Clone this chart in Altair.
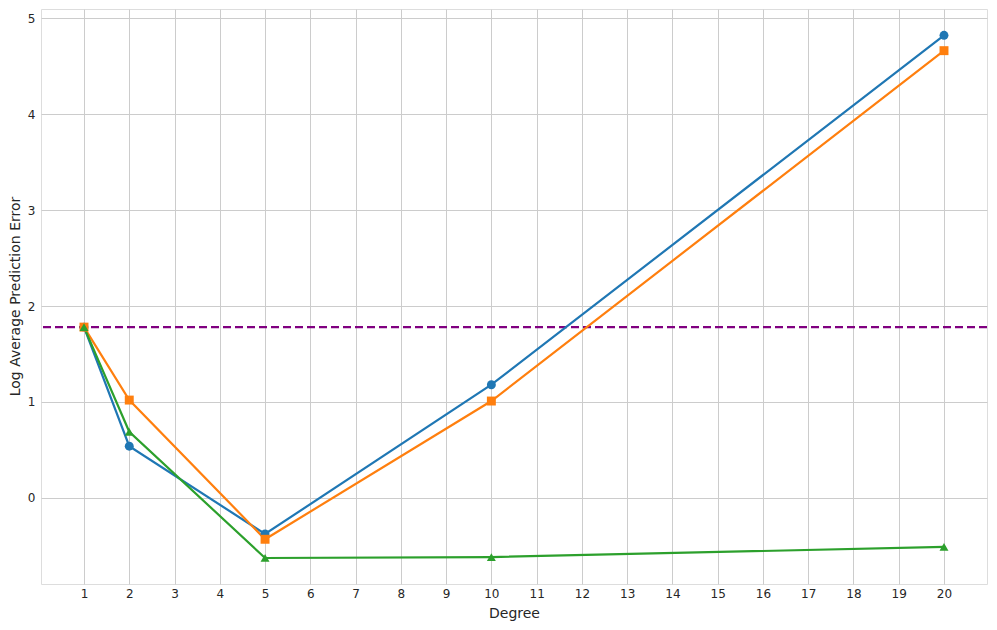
import altair as alt
import pandas as pd

degrees = [1, 2, 5, 10, 20]
series_a = [1.78, 0.54, -0.375, 1.18, 4.82]
series_b = [1.78, 1.02, -0.43, 1.01, 4.66]
series_c = [1.78, 0.69, -0.625, -0.615, -0.51]
baseline = 1.78
series_names = ["A", "B", "C"]
colors = ["#1f77b4", "#ff7f0e", "#2ca02c"]
shapes = ["circle", "square", "triangle-up"]
x_ticks = list(range(1, 21))
y_ticks = [0, 1, 2, 3, 4, 5]

rows = []
for name, vals in zip(series_names, [series_a, series_b, series_c]):
    for d, v in zip(degrees, vals):
        rows.append({"Degree": d, "Error": v, "Series": name})
df = pd.DataFrame(rows)

xscale = alt.Scale(domain=[0.05, 20.95], nice=False, zero=False)
yscale = alt.Scale(domain=[-0.896, 5.094], nice=False, zero=False)
cscale = alt.Scale(domain=series_names, range=colors)
sscale = alt.Scale(domain=series_names, range=shapes)

xaxis = alt.Axis(values=x_ticks, title="Degree", grid=True, gridColor="#cccccc",
                 ticks=False, labelPadding=4, domain=False, labelFontSize=12,
                 labelColor="#262626", titleFontSize=14, titleFontWeight="normal",
                 titleColor="#262626", titlePadding=7, labelFlush=False, format="d")
yaxis = alt.Axis(values=y_ticks, title="Log Average Prediction Error", grid=True,
                 gridColor="#cccccc", ticks=False, labelPadding=6, domain=False,
                 labelFontSize=12, labelColor="#262626", titleFontSize=14,
                 titleFontWeight="normal", titleColor="#262626", format="d",
                 titleX=-19, titleY=287, titleAngle=-90, titleBaseline="bottom",
                 titleAlign="center")

base = alt.Chart(df)
lines = base.mark_line(strokeWidth=2.2).encode(
    x=alt.X("Degree:Q", scale=xscale, axis=xaxis),
    y=alt.Y("Error:Q", scale=yscale, axis=yaxis),
    color=alt.Color("Series:N", scale=cscale, legend=None),
)
points = base.mark_point(filled=True, size=80, opacity=1).encode(
    x=alt.X("Degree:Q", scale=xscale),
    y=alt.Y("Error:Q", scale=yscale),
    color=alt.Color("Series:N", scale=cscale, legend=None),
    shape=alt.Shape("Series:N", scale=sscale, legend=None),
)
rule = alt.Chart(pd.DataFrame({"y": [baseline]})).mark_rule(
    color="#800080", strokeWidth=2.4, strokeDash=[8, 4]
).encode(y=alt.Y("y:Q", scale=yscale))

chart = alt.layer(rule, lines, points).properties(
    width=946, height=575,
    autosize=alt.AutoSizeParams(type="none"),
    padding={"left": 33, "top": 1, "right": 2, "bottom": 40},
).configure_view(stroke="#cccccc", strokeWidth=1).configure(
    font="DejaVu Sans"
).configure_axis(labelFont="DejaVu Sans", titleFont="DejaVu Sans")

chart.save("out.html", embed_options={"renderer": "svg", "actions": False})
